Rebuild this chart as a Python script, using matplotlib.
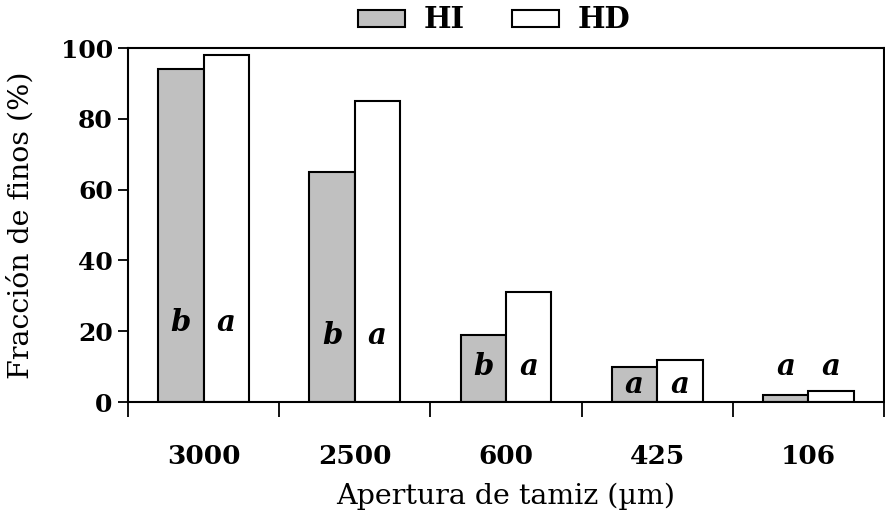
import matplotlib
matplotlib.use("Agg")
import matplotlib.pyplot as plt
import numpy as np
from matplotlib.patches import Patch

categories = ["3000", "2500", "600", "425", "106"]
hi_values = [94, 65, 19, 10, 2]
hd_values = [98, 85, 31, 12, 3]
hi_letters = ["b", "b", "b", "a", "a"]
hd_letters = ["a", "a", "a", "a", "a"]
letter_y = [22.5, 18.8, 10, 5, 10]

plt.rcParams['font.family'] = ['DejaVu Serif']

fig = plt.figure(figsize=(8.85, 5.2), dpi=100)
ax = fig.add_axes([128/885, 1 - 402/520, (884-128)/885, (402-48)/520])

x = np.arange(len(categories))
w = 0.3
ax.bar(x - w/2, hi_values, w, color="#c0c0c0", edgecolor="black", linewidth=1.5, label="HI", zorder=2)
ax.bar(x + w/2, hd_values, w, color="white", edgecolor="black", linewidth=1.5, label="HD", zorder=2)

for i in range(len(categories)):
    ax.text(x[i] - w/2, letter_y[i], hi_letters[i], ha="center", va="center",
            fontsize=21, fontweight="bold", fontstyle="italic", zorder=3)
    ax.text(x[i] + w/2, letter_y[i], hd_letters[i], ha="center", va="center",
            fontsize=21, fontweight="bold", fontstyle="italic", zorder=3)

ax.set_xlim(-0.5, len(categories) - 0.5)
ax.set_ylim(0, 100)
ax.set_yticks([0, 20, 40, 60, 80, 100])
ax.set_xticks(x)
ax.set_xticklabels(categories)
ax.set_xticks(np.arange(-0.5, len(categories)), minor=True)
ax.tick_params(axis="x", which="major", length=0, pad=30, labelsize=19)
ax.tick_params(axis="x", which="minor", length=11, width=1.3, direction="out")
ax.tick_params(axis="y", length=7, width=1.3, direction="out", labelsize=18, pad=4)
for lab in ax.get_xticklabels() + ax.get_yticklabels():
    lab.set_fontweight("bold")

for s in ["top", "right", "left", "bottom"]:
    ax.spines[s].set_linewidth(1.5)

ax.set_ylabel("Fracción de finos (%)", fontsize=20.5, labelpad=19)
ax.set_xlabel("Apertura de tamiz (µm)", fontsize=20.5, labelpad=10)

handles = [Patch(facecolor="#c0c0c0", edgecolor="black", linewidth=1.5, label="HI"),
           Patch(facecolor="white", edgecolor="black", linewidth=1.5, label="HD")]
leg = fig.legend(handles=handles, loc="center", bbox_to_anchor=(494/885, 1 - 20/520), ncol=2,
                 frameon=False, prop={"size": 21, "weight": "bold"},
                 handlelength=1.62, handleheight=0.52, columnspacing=1.6, handletextpad=0.65,
                 borderpad=0.1)

fig.savefig("out.png", dpi=100)
